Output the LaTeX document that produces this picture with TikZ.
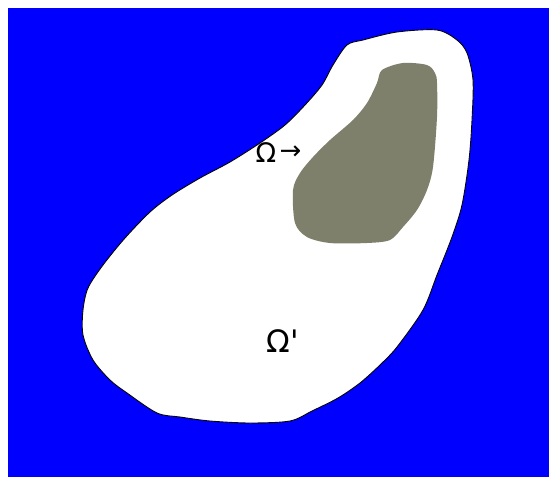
\documentclass[tikz,border=0pt]{standalone}
\usepackage{fontspec}
\setmainfont{DejaVu Sans}
\usepackage{tikz}
\usetikzlibrary{positioning}
\definecolor{domblue}{HTML}{0000FF}
\definecolor{innergray}{HTML}{7F806B}

\begin{document}
\begin{tikzpicture}[x=1pt,y=-1pt]
  \useasboundingbox (0,0) rectangle (549,477);
  \fill[domblue] (8,8) rectangle (549,477);
  % outer set
  \draw[draw=black, fill=white, line width=0.9pt] plot[smooth cycle, tension=0.5] coordinates {
    (347,45) (363,40) (397,32) (437,30) (457,40) (467,53) (473,80) (472,120)
    (469,160) (462,205) (452,237) (437,275) (423,310)
    (397,347) (380,365) (360,383) (338,398) (312,411) (290,421) (250,423)
    (210,421) (180,417) (157,413) (127,393) (110,380) (93,360)
    (83,335) (83,310) (88,288) (103,265) (125,238)
    (150,212) (172,195) (200,178) (230,162) (260,143) (285,125) (305,105) (322,85)
    (333,65)};
  % inner set
  \fill[innergray] plot[smooth cycle, tension=0.5] coordinates {
    (382,70) (403,63) (427,65) (435,73) (437,83) (437,117) (433,167)
    (427,190) (417,210) (403,227) (390,240) (367,243) (330,243) (307,237)
    (295,223) (293,190) (300,173) (313,157) (330,140) (353,120) (367,103)
    (377,83)};
  \node[font=\fontsize{27}{30}\selectfont, inner sep=0pt] (omega) at (266,153) {Ω};
  \node[font=\fontsize{26}{30}\selectfont, inner sep=0pt, right=3pt of omega] (arr) {→};
  \node[font=\fontsize{31}{34}\selectfont, inner sep=0pt] (omegap) at (283,341) {Ω\textquotesingle};
\end{tikzpicture}
\end{document}
